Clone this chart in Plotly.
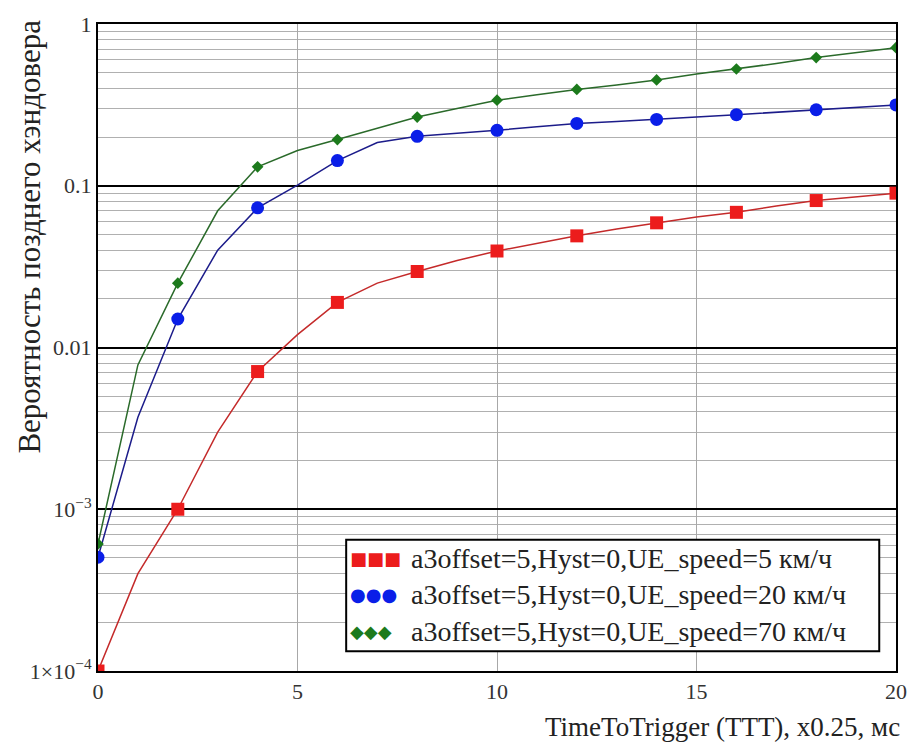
import plotly.graph_objects as go

# ---- data ----
ttt = list(range(0, 21))
p_5kmh = [1.0e-4, 4.0e-4, 1.0e-3, 3.0e-3, 7.1e-3, 1.2e-2, 1.9e-2, 2.5e-2, 2.95e-2, 3.45e-2,
          3.95e-2, 4.4e-2, 4.9e-2, 5.4e-2, 5.9e-2, 6.4e-2, 6.85e-2, 7.5e-2, 8.1e-2, 8.5e-2, 9.0e-2]
p_20kmh = [5.05e-4, 3.7e-3, 1.5e-2, 4.0e-2, 7.3e-2, 1.01e-1, 1.43e-1, 1.85e-1, 2.02e-1, 2.1e-1,
           2.2e-1, 2.32e-1, 2.43e-1, 2.5e-1, 2.57e-1, 2.66e-1, 2.75e-1, 2.85e-1, 2.95e-1, 3.05e-1, 3.16e-1]
p_70kmh = [6.1e-4, 7.8e-3, 2.5e-2, 7.0e-2, 1.31e-1, 1.65e-1, 1.93e-1, 2.27e-1, 2.66e-1, 3.0e-1,
           3.38e-1, 3.65e-1, 3.94e-1, 4.2e-1, 4.51e-1, 4.9e-1, 5.27e-1, 5.7e-1, 6.2e-1, 6.65e-1, 7.14e-1]

series_names = ["a3offset=5,Hyst=0,UE_speed=5 км/ч",
                "a3offset=5,Hyst=0,UE_speed=20 км/ч",
                "a3offset=5,Hyst=0,UE_speed=70 км/ч"]
y_tickvals = [1e-4, 1e-3, 1e-2, 1e-1, 1]
y_ticktext = ["1×10<sup>−4</sup>", "10<sup>−3</sup>", "0.01", "0.1", "1"]
x_tickvals = [0, 5, 10, 15, 20]

SERIF = "Liberation Serif"

styles = [
    dict(line="#c42a2a", marker="#ec1c1c", symbol="square", size=13, glyph="■■■"),
    dict(line="#1c1c8a", marker="#0a1ee8", symbol="circle", size=13, glyph="●●●"),
    dict(line="#2a6a2a", marker="#1c7a1c", symbol="diamond", size=9, glyph="◆◆◆"),
]
data = [p_5kmh, p_20kmh, p_70kmh]

fig = go.Figure()
for vals, st, name in zip(data, styles, series_names):
    fig.add_trace(go.Scatter(x=ttt, y=vals, mode="lines", name=name,
                             line=dict(color=st["line"], width=1.5), showlegend=False))
    fig.add_trace(go.Scatter(x=ttt[::2], y=vals[::2], mode="markers", name=name,
                             marker=dict(color=st["marker"], symbol=st["symbol"], size=st["size"],
                                         line=dict(width=0)),
                             showlegend=False))

minor_vals = [m * 10.0 ** e for e in range(-4, 0) for m in range(2, 10)]

fig.update_layout(
    width=919, height=749,
    margin=dict(l=98, r=20, t=16, b=78),
    paper_bgcolor="white", plot_bgcolor="white",
    font=dict(family=SERIF, size=22, color="#222"),
    showlegend=False,
    xaxis=dict(range=[0, 20], tickvals=x_tickvals, ticks="", showgrid=True,
               gridcolor="#a8a8a8", gridwidth=1, zeroline=False,
               showline=True, mirror=True, linecolor="black", linewidth=2,
               tickfont=dict(family=SERIF, size=22, color="#333")),
    yaxis=dict(type="log", range=[-4, 0], tickvals=y_tickvals, ticktext=y_ticktext,
               ticks="", showgrid=True, gridcolor="black", gridwidth=2, zeroline=False,
               showline=True, mirror=True, linecolor="black", linewidth=2,
               tickfont=dict(family=SERIF, size=22, color="#333"),
               minor=dict(tickvals=minor_vals, showgrid=True, gridcolor="#b0b0b0",
                          gridwidth=1, ticks="")),
)

# axis titles
fig.add_annotation(text="Вероятность позднего хэндовера", xref="paper", yref="paper",
                   x=-0.086, y=0.672, textangle=-90, showarrow=False,
                   xanchor="center", yanchor="middle",
                   font=dict(family=SERIF, size=31, color="#222"))
fig.add_annotation(text="TimeToTrigger (TTT), x0.25, мс", xref="paper", yref="paper",
                   x=1.0075, y=-0.087, showarrow=False, xanchor="right", yanchor="middle",
                   font=dict(family=SERIF, size=27, color="#222"))

# legend box
fig.add_shape(type="rect", xref="paper", yref="paper", x0=0.311, x1=0.979, y0=0.0305, y1=0.203,
              line=dict(color="black", width=2), fillcolor="white", layer="above")
row_y = [0.174, 0.1176, 0.061]
for st, name, yy in zip(styles, series_names, row_y):
    fig.add_annotation(text=st["glyph"], xref="paper", yref="paper", x=0.3134, y=yy,
                       xanchor="left", yanchor="middle", showarrow=False,
                       font=dict(family="DejaVu Sans", size=18, color=st["marker"]))
    fig.add_annotation(text=name, xref="paper", yref="paper", x=0.3895, y=yy,
                       xanchor="left", yanchor="middle", showarrow=False,
                       font=dict(family=SERIF, size=28, color="#222"))

fig.write_html("out.html", config={"displayModeBar": False},
               post_script="document.body.style.margin='0px';")
